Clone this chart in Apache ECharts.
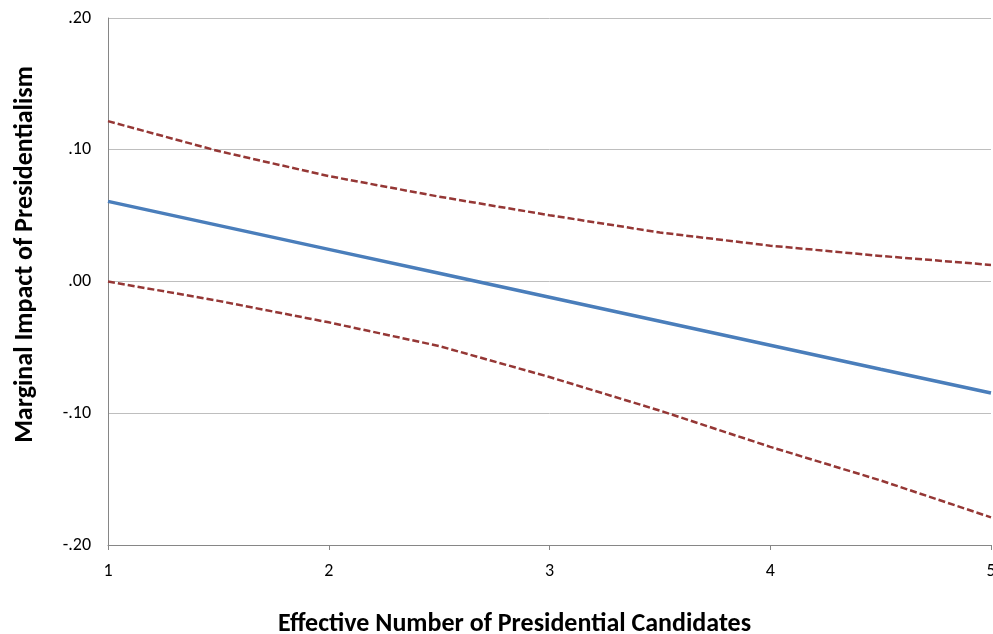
<!DOCTYPE html>
<html>
<head>
<meta charset="utf-8">
<script src="https://cdn.jsdelivr.net/npm/echarts@6/dist/echarts.min.js"></script>
<style>
  html, body { margin: 0; padding: 0; background: #fff; overflow: hidden; }
  #chart { width: 993px; height: 634px; }
</style>
</head>
<body>
<div id="chart"></div>
<script>
// Effective number of presidential candidates (x values)
const candidates = [1, 1.5, 2, 2.5, 3, 3.5, 4, 4.5, 5];
// Marginal impact estimate and its confidence bounds
const marginalImpact = [0.0608, 0.0426, 0.0244, 0.0062, -0.0120, -0.0302, -0.0484, -0.0666, -0.0846];
const upperBound = [0.1217, 0.0990, 0.0800, 0.0644, 0.0503, 0.0372, 0.0272, 0.0194, 0.0126];
const lowerBound = [0.0000, -0.0147, -0.0310, -0.0490, -0.0725, -0.0980, -0.1255, -0.1510, -0.1790];
const yTicks = [-0.2, -0.1, 0, 0.1, 0.2];

const pair = (ys) => candidates.map((x, i) => [x, ys[i]]);
const fmt = (v) => {
  const s = Math.abs(v).toFixed(2).replace(/^0/, '');
  return (v < -1e-9 ? '-' : '') + s;
};

const font = 'Calibri, Carlito, "Open Sans", "Liberation Sans", sans-serif';
const chart = echarts.init(document.getElementById('chart'), null, { renderer: 'canvas' });
chart.setOption({
  animation: false,
  backgroundColor: '#ffffff',
  grid: { left: 108, right: 2, top: 18, bottom: 89, containLabel: false, outerBoundsMode: 'none' },
  xAxis: {
    type: 'value', min: 1, max: 5, interval: 1,
    name: 'Effective Number of Presidential Candidates',
    nameLocation: 'middle', nameGap: 66,
    nameTextStyle: { fontFamily: font, fontSize: 26, fontWeight: 'bold', color: '#000', padding: [0, 70, 0, 0] },
    axisLine: { show: true, onZero: false, lineStyle: { color: '#868686', width: 1 } },
    axisTick: { show: true, length: 5, inside: false, lineStyle: { color: '#868686' } },
    axisLabel: { fontFamily: font, fontSize: 18, color: '#000', margin: 17, showMaxLabel: true },
    splitLine: { show: false }
  },
  yAxis: {
    type: 'value', min: yTicks[0], max: yTicks[yTicks.length - 1], interval: 0.1,
    name: 'Marginal Impact of Presidentialism',
    nameLocation: 'middle', nameGap: 70, nameRotate: 90,
    nameTextStyle: { fontFamily: font, fontSize: 26, fontWeight: 'bold', color: '#000', padding: [0, 0, 0, 54] },
    axisLine: { show: true, lineStyle: { color: '#868686', width: 1 } },
    axisTick: { show: false },
    axisLabel: { fontFamily: font, fontSize: 18, color: '#000', margin: 17, formatter: fmt },
    splitLine: { show: true, lineStyle: { color: '#bebebe', width: 1 } }
  },
  series: [
    {
      type: 'line', data: pair(upperBound), showSymbol: false, smooth: false,
      lineStyle: { color: '#953735', width: 2.5, type: [7, 3] }, z: 3
    },
    {
      type: 'line', data: pair(lowerBound), showSymbol: false, smooth: false,
      lineStyle: { color: '#953735', width: 2.5, type: [7, 3] }, z: 3
    },
    {
      type: 'line', data: pair(marginalImpact), showSymbol: false, smooth: false,
      lineStyle: { color: '#4a7ebb', width: 3.5 }, z: 4
    }
  ]
});
</script>
</body>
</html>
